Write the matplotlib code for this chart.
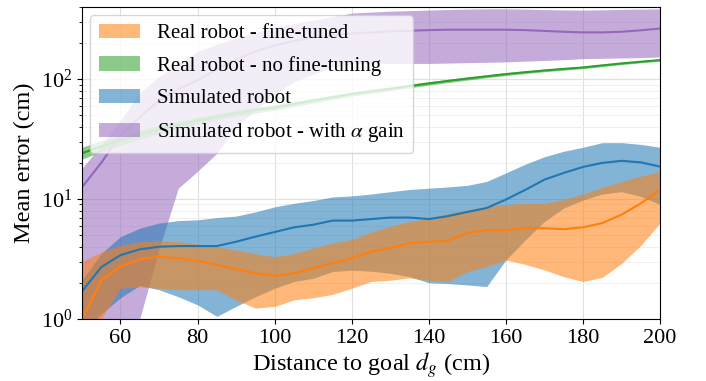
import matplotlib
matplotlib.use("Agg")
import matplotlib.pyplot as plt
import numpy as np

plt.rcParams['font.family'] = ['Liberation Serif', 'DejaVu Serif']
plt.rcParams['mathtext.fontset'] = 'stix'

dist = np.arange(50, 201, 5)

# Real robot - fine-tuned
real_ft_mean = [1.0, 2.1, 2.73, 3.14, 3.3, 3.2, 3.04, 2.82, 2.6, 2.4, 2.28, 2.4, 2.65, 2.91, 3.2, 3.64,
                3.88, 4.27, 4.4, 4.5, 5.2, 5.5, 5.5, 5.7, 5.7, 5.6, 5.8, 6.3, 7.4, 9.2, 11.9]
real_ft_hi = [3.0, 3.6, 4.1, 4.4, 4.5, 4.4, 4.2, 4.0, 3.76, 3.5, 3.3, 3.5, 3.9, 4.3, 4.6, 5.3,
              5.9, 6.5, 6.9, 7.6, 8.1, 8.7, 9.0, 9.2, 9.2, 9.9, 11.0, 12.5, 14.0, 15.5, 17.0]
real_ft_lo = [0.6, 1.0, 1.8, 1.85, 1.8, 1.75, 1.75, 1.75, 1.44, 1.23, 1.27, 1.44, 1.5, 1.6, 1.8, 2.05,
              2.1, 2.2, 2.1, 2.05, 2.48, 2.73, 3.1, 2.85, 2.56, 2.25, 2.05, 2.22, 2.9, 4.1, 6.3]

# Real robot - no fine-tuning
real_nft_mean = [24, 27.5, 31, 34.5, 38, 41.5, 45, 48.5, 52, 55, 58, 62, 66, 70.5, 75, 79,
                 83, 87.5, 92, 96.5, 101, 105.5, 110, 114, 118, 121.5, 125, 130, 135, 139.5, 144]
real_nft_lo = [21.5, 24.8, 28, 31.5, 35, 38.5, 42, 45.5, 49, 52, 55, 59, 63, 67.5, 72, 76,
               80, 84.5, 89, 93.5, 98, 102.5, 107, 111, 115, 118.5, 122, 127, 132, 136.5, 141]
real_nft_hi = [27, 30.5, 34, 37.5, 41, 44.5, 48, 51.5, 55, 58, 61, 65, 69, 73.5, 78, 82,
               86, 90.5, 95, 99.5, 104, 108.5, 113, 117, 121, 124.5, 128, 133, 138, 142.5, 147]

# Simulated robot
sim_mean = [1.69, 2.7, 3.4, 3.8, 4.0, 4.05, 4.05, 4.05, 4.4, 4.85, 5.3, 5.8, 6.1, 6.6, 6.6, 6.8,
            7.0, 7.0, 6.8, 7.2, 7.8, 8.4, 9.9, 11.9, 14.5, 16.5, 18.5, 20.0, 20.8, 20.2, 18.6]
sim_hi = [2.1, 3.5, 4.85, 5.7, 6.3, 6.6, 6.7, 7.0, 7.2, 7.8, 8.6, 9.2, 9.7, 10.4, 10.6, 11.0,
          11.5, 12.0, 12.3, 12.6, 13.0, 14.0, 16.5, 19.5, 22.5, 25.0, 27.0, 29.5, 29.5, 28.5, 27.0]
sim_lo = [0.8, 1.1, 1.5, 1.9, 1.75, 1.53, 1.31, 1.05, 1.27, 1.53, 1.8, 2.05, 2.18, 2.48, 2.55, 2.5,
          2.4, 2.25, 2.0, 1.97, 1.92, 1.86, 3.1, 4.55, 6.5, 8.4, 9.8, 11.0, 11.5, 10.5, 9.0]

# Simulated robot - with alpha gain
sim_a_mean = [12.5, 20, 34, 48, 66, 82, 98, 120, 145, 170, 190, 208, 222, 232, 240, 245,
              250, 253, 256, 258, 258, 258, 258, 256, 252, 248, 245, 245, 248, 255, 264]
sim_a_hi = [18, 28, 45, 77, 105, 135, 170, 195, 220, 245, 270, 290, 310, 330, 355, 362,
            368, 372, 376, 380, 383, 385, 385, 383, 380, 377, 376, 378, 381, 383, 385]
sim_a_lo = [0.3, 0.4, 0.6, 1.0, 3.8, 12.3, 17, 24, 40, 55, 75, 95, 110, 125, 135, 135,
            135, 135, 135, 136, 137, 138, 139, 141, 143, 145, 148, 149, 150, 151, 153]

fig, ax = plt.subplots(figsize=(7.06, 3.81), dpi=100)
fig.subplots_adjust(left=0.116, right=0.935, bottom=0.163, top=0.982)

a = 0.55
ax.fill_between(dist, sim_a_lo, sim_a_hi, color="tab:purple", alpha=a, lw=0,
                label=r"Simulated robot - with $\alpha$ gain")
ax.fill_between(dist, sim_lo, sim_hi, color="tab:blue", alpha=a, lw=0, label="Simulated robot")
ax.fill_between(dist, real_ft_lo, real_ft_hi, color="tab:orange", alpha=a, lw=0,
                label="Real robot - fine-tuned")
ax.fill_between(dist, real_nft_lo, real_nft_hi, color="tab:green", alpha=a, lw=0,
                label="Real robot - no fine-tuning")

ax.plot(dist, sim_a_mean, color="tab:purple", lw=1.5)
ax.plot(dist, sim_mean, color="tab:blue", lw=1.5)
ax.plot(dist, real_ft_mean, color="tab:orange", lw=1.5)
ax.plot(dist, real_nft_mean, color="tab:green", lw=1.5)

ax.set_yscale("log")
ax.set_xlim(50, 200)
ax.set_ylim(1, 400)
ax.grid(True, which="major", color="#e0e0e0", lw=0.8)
ax.grid(True, which="minor", axis="y", color="#ececec", lw=0.6)
ax.set_axisbelow(True)

ax.tick_params(labelsize=16)
ax.set_xlabel(r"Distance to goal $d_g$ (cm)", fontsize=17.5, labelpad=2)
ax.set_ylabel("Mean error (cm)", fontsize=17.5)

h, l = ax.get_legend_handles_labels()
order = [2, 3, 1, 0]
ax.legend([h[i] for i in order], [l[i] for i in order], loc="upper left", fontsize=15,
          labelspacing=0.62, borderaxespad=0.4)

fig.savefig("out.png", dpi=100)
